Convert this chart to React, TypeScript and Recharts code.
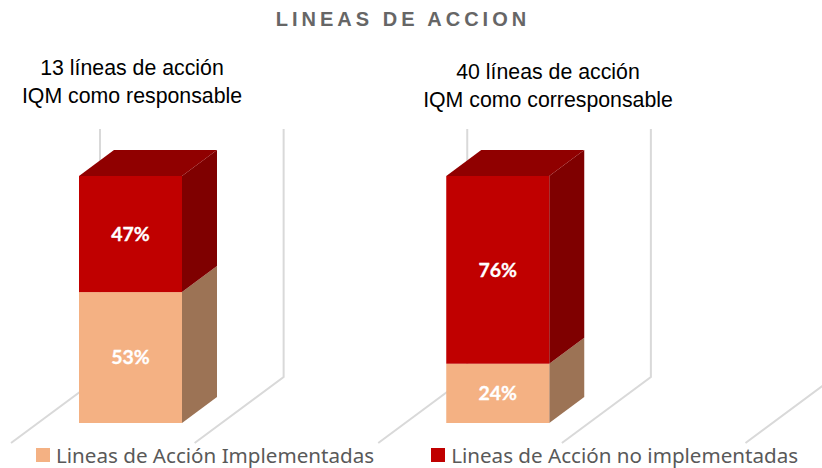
import { BarChart, Bar, XAxis, YAxis, Legend, LabelList, usePlotArea } from 'recharts';

const categorias = ['13 líneas de acción', '40 líneas de acción'];
const implementadas = [53, 24];
const noImplementadas = [47, 76];
// serie vacía: reserva el hueco a la derecha de cada columna, como en el gráfico original
const vacio = [0, 0];

const titulo = 'LINEAS DE ACCION';
const encabezados = [
    { lineas: ['13 líneas de acción', 'IQM como responsable'], x: 132, y: [75, 103] },
    { lineas: ['40 líneas de acción', 'IQM como corresponsable'], x: 548, y: [79, 107] },
];

const data = categorias.map((nombre, i) => ({
    nombre,
    implementadas: implementadas[i],
    noImplementadas: noImplementadas[i],
    vacio: vacio[i],
}));

const DX = 35;
const DY = -26;
const GRIS_PARED = '#d9d9d9';

const FONDO_DIVISIONES = [0, 1, 2, 3, 4];

// paredes y piso del gráfico 3D
function Paredes() {
    const plot = usePlotArea();
    if (!plot) return null;
    const base = plot.y + plot.height + 20;
    return (
        <g>
            {FONDO_DIVISIONES.map((i) => {
                const x = plot.x + (i * plot.width) / 4;
                return (
                    <polyline
                        key={i}
                        points={`${x},${base} ${x + 89},${base - 66} ${x + 89},129`}
                        fill="none"
                        stroke={GRIS_PARED}
                        strokeWidth={2}
                    />
                );
            })}
        </g>
    );
}

function Bloque({ x, y, width, height, fill, lateral, techo }: any) {
    const der = x + width;
    return (
        <g>
            <polygon
                points={`${der},${y} ${der + DX},${y + DY} ${der + DX},${y + height + DY} ${der},${y + height}`}
                fill={lateral}
            />
            {techo && (
                <polygon
                    points={`${x},${y} ${x + DX},${y + DY} ${der + DX},${y + DY} ${der},${y}`}
                    fill={techo}
                />
            )}
            <rect x={x} y={y} width={width} height={height} fill={fill} />
        </g>
    );
}

const etiqueta = {
    fill: '#ffffff',
    stroke: '#ffffff',
    strokeWidth: 0.3,
    fontFamily: 'Lato',
    fontWeight: 700,
    fontSize: 19.5,
};

function Leyenda({ payload }: any) {
    return (
        <div style={{ display: 'flex', gap: 57, whiteSpace: 'nowrap' }}>
            {(payload ?? []).map((item: any) => (
                <div key={item.value} style={{ display: 'flex', alignItems: 'center', gap: 6 }}>
                    <span style={{ width: 14, height: 14, background: item.color }} />
                    <span style={{ color: '#595959', fontFamily: 'Noto Sans', fontSize: 20.6, lineHeight: '28px' }}>
                        {item.value}
                    </span>
                </div>
            ))}
        </div>
    );
}

export default function App() {
    return (
        <div style={{ position: 'absolute', left: 0, top: 0, width: 822, height: 468, background: '#fff' }}>
            <BarChart
                width={822}
                height={468}
                data={data}
                margin={{ top: 176, right: 76.5, bottom: 45, left: 11 }}
                barSize={103}
                barGap={26}
            >
                <Paredes />
                <text
                    x={403}
                    y={26}
                    textAnchor="middle"
                    fill="#666666"
                    fontFamily="Liberation Sans"
                    fontWeight={700}
                    fontSize={20}
                    letterSpacing={4}
                >
                    {titulo}
                </text>
                {encabezados.map((e) =>
                    e.lineas.map((linea, i) => (
                        <text
                            key={linea}
                            x={e.x}
                            y={e.y[i]}
                            textAnchor="middle"
                            fill="#000000"
                            fontFamily="Liberation Sans"
                            fontSize={21.3}
                        >
                            {linea}
                        </text>
                    ))
                )}
                <XAxis dataKey="nombre" hide />
                <YAxis hide domain={[0, 100]} />
                <Bar
                    dataKey="implementadas"
                    name="Lineas de Acción Implementadas"
                    stackId="a"
                    fill="#F4B183"
                    isAnimationActive={false}
                    shape={(p: any) => <Bloque {...p} lateral="#9C7355" />}
                >
                    <LabelList dataKey="implementadas" position="center" formatter={(v: any) => `${v}%`} style={etiqueta} />
                </Bar>
                <Bar
                    dataKey="noImplementadas"
                    name="Lineas de Acción no implementadas"
                    stackId="a"
                    fill="#C00000"
                    isAnimationActive={false}
                    shape={(p: any) => <Bloque {...p} lateral="#7F0000" techo="#900000" />}
                >
                    <LabelList dataKey="noImplementadas" position="center" formatter={(v: any) => `${v}%`} style={etiqueta} />
                </Bar>
                <Bar dataKey="vacio" stackId="b" fill="none" legendType="none" isAnimationActive={false} />
                <Legend
                    layout="horizontal"
                    verticalAlign="middle"
                    align="center"
                    wrapperStyle={{ left: 36, top: 441, width: 775 }}
                    content={(props: any) => <Leyenda payload={props.payload} />}
                />
            </BarChart>
        </div>
    );
}
